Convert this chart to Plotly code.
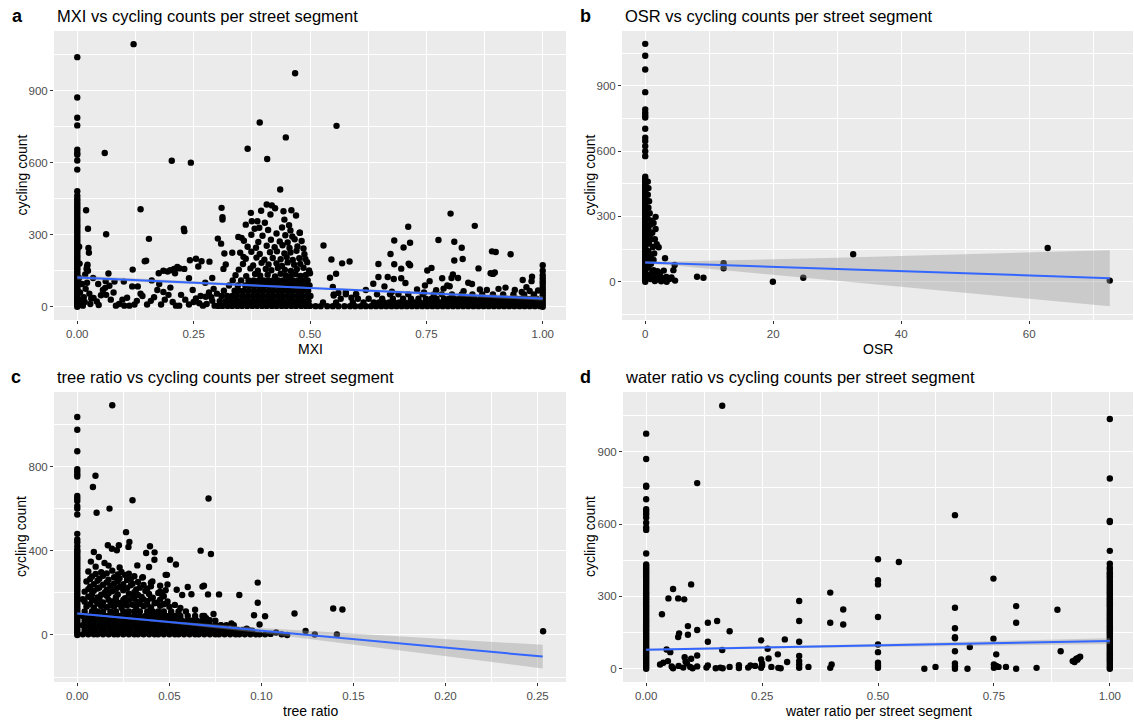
import plotly.graph_objects as go

# ---------------- Panel a : MXI ----------------
a_x0_y = [0,6,12,18,24,30,37,43,50,56,63,69,76,82,89,96,103,110,117,124,131,139,146,154,161,169,177,185,193,201,
          209,217,226,234,242,251,259,268,277,286,295,304,313,322,331,340,349,358,367,376,386,395,404,413,422,431,
          441,450,462,481,571,609,633,640,654,755,787,871,1039]
a_left = [(0.004,250),(0.004,120),(0.005,180),(0.006,60),(0.006,10),(0.008,30),(0.010,95),(0.012,5),(0.014,40),
          (0.016,20),(0.017,135),(0.018,75),(0.019,402),(0.020,158),(0.021,168),(0.021,100),(0.022,175),(0.023,325),
          (0.023,150),(0.024,245),(0.025,225),(0.026,55),(0.028,12),(0.030,35),(0.034,120),(0.035,37),(0.042,22),
          (0.045,95),(0.046,8),(0.051,48),(0.055,70),(0.059,640),(0.060,79),(0.061,107),(0.062,302),(0.062,50),
          (0.067,139),(0.069,88),(0.072,30),(0.078,60),(0.080,105),(0.083,5),(0.090,12),(0.097,30),(0.100,105),
          (0.101,5),(0.107,38),(0.112,5),(0.118,85),(0.119,155),(0.121,1093),(0.123,10),(0.128,25),(0.130,85),
          (0.136,406),(0.136,55),(0.140,45),(0.145,190),(0.148,192),(0.150,10),(0.154,283),(0.158,25),(0.160,110),
          (0.165,40),(0.172,70),(0.175,140),(0.176,95),(0.180,10),(0.185,150),(0.185,62),(0.188,30),(0.194,147),
          (0.196,50),(0.200,152),(0.200,80),(0.203,608),(0.205,20),(0.208,158),(0.210,140),(0.212,5),(0.215,166),
          (0.219,5),(0.220,160),(0.223,50),(0.229,325),(0.230,315),(0.230,158),(0.232,30),(0.240,119),(0.240,10),
          (0.242,194),(0.244,600),(0.248,70),(0.250,20),(0.255,200),(0.255,35),(0.260,168),(0.262,15),(0.265,45),
          (0.267,190),(0.270,5),(0.275,100),(0.276,42),(0.278,12),(0.283,60),(0.284,188),(0.288,40),(0.290,120),
          (0.290,25),(0.293,75),(0.295,5),(0.300,55)]
a_mid_rows = [(4,  [0.303,0.312,0.323,0.333,0.344,0.354,0.365,0.376,0.386,0.397,0.407,0.418,0.428,0.439,0.449,0.460,0.470,0.481,0.491,0.500]),
              (24, [0.306,0.318,0.328,0.339,0.349,0.360,0.370,0.381,0.392,0.402,0.413,0.423,0.434,0.444,0.455,0.465,0.476,0.486,0.497]),
              (45, [0.310,0.322,0.333,0.343,0.355,0.366,0.377,0.387,0.398,0.409,0.419,0.430,0.440,0.451,0.461,0.472,0.482,0.493,0.501]),
              (67, [0.315,0.338,0.348,0.358,0.369,0.380,0.391,0.401,0.412,0.422,0.433,0.443,0.454,0.464,0.475,0.485,0.496]),
              (89, [0.326,0.345,0.361,0.372,0.383,0.394,0.404,0.415,0.426,0.436,0.447,0.457,0.468,0.478,0.489,0.499]),
              (110,[0.334,0.352,0.368,0.379,0.390,0.400,0.411,0.421,0.432,0.442,0.453,0.463,0.474,0.484,0.495])]
a_mid_upper = [(0.340,132),(0.363,128),(0.382,137),(0.393,130),(0.409,134),(0.425,127),(0.437,138),(0.448,131),
               (0.458,126),(0.469,136),(0.480,129),(0.491,133),(0.500,140),(0.347,155),(0.372,160),(0.388,150),
               (0.405,158),(0.417,152),(0.431,162),(0.446,154),(0.459,149),(0.472,157),(0.486,163),(0.498,151),
               (0.356,178),(0.378,172),(0.396,183),(0.411,176),(0.428,181),(0.440,170),(0.452,185),(0.466,175),
               (0.479,179),(0.494,186),(0.362,200),(0.385,205),(0.402,196),(0.420,203),(0.437,198),(0.450,207),
               (0.463,195),(0.477,202),(0.490,199),(0.350,225),(0.374,229),(0.392,220),(0.414,227),(0.429,231),
               (0.445,222),(0.458,226),(0.471,233),(0.488,219),(0.366,250),(0.384,246),(0.407,254),(0.424,248),
               (0.441,256),(0.456,245),(0.473,251),(0.486,243),(0.358,275),(0.389,270),(0.416,279),(0.435,272),
               (0.452,268),(0.467,281),(0.482,274),(0.374,300),(0.398,296),(0.428,305),(0.447,298),(0.462,293),
               (0.478,308),(0.381,325),(0.410,320),(0.440,330),(0.458,318),(0.302,284),(0.309,263),(0.316,222),
               (0.319,176),(0.314,158),(0.333,225),(0.357,208),(0.310,412),(0.312,373),(0.312,363),(0.346,291),
               (0.353,287),(0.362,342),(0.366,658),(0.373,391),(0.375,356),(0.387,356),(0.391,329),(0.392,767),
               (0.403,350),(0.407,426),(0.408,615),(0.415,384),(0.418,422),(0.436,488),(0.443,398),(0.445,363),
               (0.448,705),(0.460,402),(0.468,972),(0.478,308),(0.470,380),(0.455,340),(0.425,410),(0.395,400),
               (0.557,753)]
a_right_rows = [(3,  [0.512,0.523,0.537,0.549,0.561,0.574,0.586,0.597,0.609,0.620,0.631,0.642,0.653,0.664,0.675,0.686,
                      0.697,0.708,0.719,0.730,0.741,0.752,0.763,0.774,0.785,0.796,0.807,0.818,0.829,0.840,0.851,0.862,
                      0.873,0.884,0.895,0.906,0.917,0.928,0.939,0.950,0.961,0.972,0.983,0.994]),
                (18, [0.528,0.556,0.592,0.615,0.637,0.648,0.659,0.670,0.681,0.692,0.703,0.714,0.725,0.736,0.747,0.758,
                      0.769,0.780,0.791,0.802,0.813,0.824,0.835,0.846,0.857,0.868,0.879,0.890,0.901,0.912,0.923,0.934,
                      0.945,0.956,0.967,0.978,0.989]),
                (34, [0.566,0.603,0.626,0.655,0.678,0.700,0.717,0.733,0.749,0.761,0.772,0.788,0.799,0.810,0.821,0.832,
                      0.843,0.854,0.866,0.877,0.888,0.899,0.910,0.921,0.932,0.943,0.954,0.965,0.976,0.987]),
                (52, [0.551,0.577,0.599,0.644,0.672,0.690,0.711,0.742,0.766,0.783,0.805,0.826,0.849,0.870,0.893,0.915,
                      0.937,0.960,0.981])]
a_right_pts = [(0.529,255),(0.546,197),(0.543,121),(0.549,83),(0.556,138),(0.569,181),(0.585,189),(0.551,47),
               (0.589,38),(0.561,58),(0.577,61),(0.599,54),(0.647,178),(0.647,124),(0.636,96),(0.667,124),(0.673,220),
               (0.681,276),(0.681,177),(0.680,116),(0.701,247),(0.696,159),(0.696,119),(0.705,99),(0.711,333),
               (0.715,267),(0.712,180),(0.715,173),(0.676,63),(0.752,151),(0.761,162),(0.757,107),(0.747,89),
               (0.776,278),(0.784,119),(0.771,69),(0.787,76),(0.795,89),(0.800,86),(0.802,388),(0.810,271),(0.810,193),
               (0.826,246),(0.828,199),(0.804,120),(0.807,135),(0.818,120),(0.840,100),(0.848,95),(0.854,337),
               (0.862,160),(0.891,231),(0.899,228),(0.888,140),(0.893,137),(0.897,143),(0.931,219),(0.957,112),
               (0.965,82),(0.976,107),(0.977,125),(0.880,70),(0.905,75),(0.920,80),(0.940,70),(0.955,62),(0.972,66),
               (0.990,68),(0.620,70),(0.660,85),(0.730,72),(0.745,60),(0.865,72),(0.830,65)]
a_x1_y = [0,12,24,36,48,60,72,84,96,106,118,132,150,173]
a_fit_x = [0, 0.25, 0.5, 0.75, 1.0]
a_fit_y = [122, 100, 78.5, 57, 35]
a_fit_lo = [114, 95, 74.5, 51, 26]
a_fit_hi = [130, 105, 82.5, 63, 44]

# ---------------- Panel b : OSR ----------------
b_x0_y = [0,8,16,24,32,40,48,56,64,72,80,88,96,104,112,120,128,136,144,152,160,168,176,184,192,200,208,216,224,232,
          240,248,256,264,272,280,288,296,304,312,320,328,336,344,352,360,368,376,384,392,400,408,416,424,432,440,
          448,456,464,472,483,577,600,623,646,662,703,754,765,777,792,871,975,1038,1093]
b_pts = [(0.4,460),(0.5,430),(0.4,400),(0.6,370),(0.5,340),(0.7,315),(0.4,290),(1.0,280),(0.8,262),(1.3,270),(0.5,240),
         (1.1,225),(0.7,215),(1.5,195),(0.9,195),(1.8,172),(2.1,158),(0.6,175),(1.2,160),(0.5,140),(1.4,130),(0.9,118),
         (1.3,100),(0.6,100),(0.9,82),(0.5,65),(1.1,45),(0.6,30),(0.8,12),(1.62,298),(1.62,242),(3.1,108),(4.6,77),
         (1.3,53),(4.4,53),(2.9,51),(2.3,40),(1.7,28),(2.0,10),(2.6,18),(3.3,22),(3.8,12),(4.66,5),(3.35,0),(2.5,2),
         (1.5,3),(4.1,20),(1.2,16),(1.9,48),(8.1,23),(9.1,18),(12.25,85),(12.25,62),(19.95,0),(24.7,18),(32.5,126),
         (62.9,155),(72.6,5)]
b_fit_x = [0, 5, 10, 20, 30, 40, 50, 60, 72.6]
b_fit_y = [88, 83, 78, 68, 58, 48, 38, 28, 16]
b_fit_lo = [82, 73, 60, 34, 6, -22, -50, -78, -113]
b_fit_hi = [94, 93, 96, 102, 110, 118, 126, 134, 145]

# ---------------- Panel c : tree ratio ----------------
c_x0_y = [0,10,20,30,40,50,60,70,80,90,100,110,120,130,140,150,160,170,180,190,200,210,220,230,240,250,260,270,280,
          290,300,310,320,330,340,350,360,370,380,390,398,406,422,441,454,481,573,601,613,637,649,661,754,765,778,
          789,874,976,1037]
c_rows = [(3,  [0.003,0.006,0.009,0.011,0.014,0.017,0.020,0.022,0.025,0.028,0.031,0.033,0.036,0.039,0.042,0.044,0.047,
                0.050,0.053,0.055,0.058,0.061,0.064,0.066,0.069,0.072,0.075,0.077,0.080,0.083,0.086,0.088,0.091,0.094,
                0.097,0.099,0.102]),
          (24, [0.004,0.007,0.010,0.013,0.015,0.018,0.021,0.024,0.026,0.029,0.032,0.035,0.037,0.040,0.043,0.046,0.048,
                0.051,0.054,0.057,0.059,0.062,0.065,0.068,0.070,0.073,0.076,0.079,0.081,0.084,0.087,0.090,0.093]),
          (46, [0.003,0.006,0.009,0.012,0.014,0.017,0.020,0.023,0.025,0.028,0.031,0.034,0.036,0.039,0.042,0.045,0.047,
                0.050,0.053,0.056,0.058,0.061,0.064,0.067,0.069,0.072,0.075,0.078,0.081,0.085]),
          (68, [0.004,0.007,0.010,0.013,0.016,0.018,0.021,0.024,0.027,0.029,0.032,0.035,0.038,0.040,0.043,0.046,0.049,
                0.051,0.054,0.057,0.060,0.062,0.065,0.068,0.071,0.075]),
          (90, [0.003,0.006,0.009,0.012,0.015,0.017,0.020,0.023,0.026,0.028,0.031,0.034,0.037,0.039,0.042,0.045,0.048,
                0.050,0.053,0.056,0.060,0.064,0.069]),
          (112,[0.004,0.008,0.011,0.014,0.018,0.021,0.025,0.028,0.031,0.034,0.038,0.041,0.044,0.047,0.051,0.055,0.059])]
c_upper = [(0.005,135),(0.009,130),(0.013,138),(0.016,132),(0.020,136),(0.024,129),(0.027,140),(0.032,133),(0.036,137),
           (0.040,131),(0.045,139),(0.050,134),(0.056,128),(0.004,158),(0.010,163),(0.014,155),(0.019,160),(0.023,152),
           (0.028,165),(0.033,157),(0.038,161),(0.043,154),(0.049,159),(0.006,182),(0.011,178),(0.016,186),(0.021,180),
           (0.026,175),(0.030,188),(0.035,181),(0.041,177),(0.047,184),(0.004,206),(0.009,210),(0.015,202),(0.019,208),
           (0.025,213),(0.031,204),(0.037,209),(0.044,200),(0.007,230),(0.012,226),(0.018,234),(0.023,228),(0.029,236),
           (0.034,225),(0.040,232),(0.005,254),(0.011,258),(0.016,250),(0.022,256),(0.027,262),(0.033,252),
           (0.008,278),(0.014,282),(0.020,275),(0.026,285),(0.031,279),(0.006,302),(0.013,298),(0.019,306),
           (0.024,300),(0.010,325),(0.017,330),(0.023,321)]
c_upper2 = [(0.007,146),(0.011,149),(0.018,143),(0.022,147),(0.026,150),(0.030,144),(0.034,148),(0.038,145),
            (0.042,151),(0.047,146),(0.053,143),(0.003,170),(0.008,168),(0.012,173),(0.017,167),(0.021,171),
            (0.025,166),(0.031,172),(0.036,169),(0.040,174),(0.045,168),(0.008,194),(0.013,191),(0.017,197),
            (0.022,193),(0.028,196),(0.033,190),(0.039,195),(0.046,192),(0.006,218),(0.011,221),(0.016,215),
            (0.021,219),(0.027,222),(0.032,216),(0.038,220),(0.009,242),(0.014,239),(0.020,245),(0.025,241),
            (0.030,244),(0.036,238),(0.007,266),(0.012,268),(0.017,263),(0.023,270),(0.029,265),(0.010,290),
            (0.016,293),(0.022,288),(0.028,291)]
c_pts = [(0.0099,757),(0.0085,704),(0.0105,581),(0.0175,601),(0.019,1093),(0.030,641),(0.0713,649),(0.067,401),
         (0.0726,385),(0.0265,489),(0.0283,442),(0.0278,419),(0.0395,422),(0.042,393),(0.0419,358),(0.0374,390),
         (0.039,323),(0.0504,358),(0.0536,335),(0.048,286),(0.0356,275),(0.040,249),(0.068,230),(0.0688,234),
         (0.071,193),(0.077,193),(0.088,190),(0.098,249),(0.098,153),(0.096,94),(0.102,89),(0.099,50),(0.118,102),
         (0.124,19),(0.114,0),(0.129,2),(0.139,126),(0.144,121),(0.141,2),(0.253,18),(0.0166,427),(0.0188,410),
         (0.0215,403),(0.0226,427),(0.009,395),(0.0117,371),(0.0148,342),(0.0074,349),(0.045,234),(0.045,206),
         (0.0487,286),(0.049,240),(0.048,213),(0.054,215),(0.057,190),(0.060,228),(0.062,194),(0.0326,331),
         (0.0353,273),(0.0408,254),(0.068,90),(0.070,80),(0.072,70),(0.0837,55),(0.092,30),(0.095,20),(0.105,5),
         (0.108,12),(0.111,3),(0.074,100),(0.064,120),(0.078,45)]
c_fit_x = [0, 0.05, 0.10, 0.15, 0.20, 0.2528]
c_fit_y = [102, 61.5, 21, -19.5, -60, -103]
c_fit_lo = [97, 56, 9, -45, -101, -159]
c_fit_hi = [107, 67, 33, 6, -19, -47]

# ---------------- Panel d : water ratio ----------------
d_x0_y = [0,8,16,24,32,40,48,56,64,72,80,88,96,104,112,120,128,136,144,152,160,168,176,184,192,200,208,216,224,232,
          240,248,256,264,272,280,288,296,304,312,320,328,336,344,352,360,368,376,384,392,400,408,416,424,433,478,
          576,586,606,627,641,651,662,703,755,759,870,975]
d_x1_y = [0,8,16,24,32,40,48,56,64,72,80,88,96,104,112,120,128,136,144,152,160,168,176,184,192,200,208,216,224,232,
          240,248,256,264,272,280,288,296,304,312,320,328,336,344,352,360,368,376,384,392,400,412,420,436,489,609,
          613,789,1036]
d_pts = [(0.164,1091),(0.110,770),(0.034,226),(0.048,292),(0.058,331),(0.069,292),(0.082,288),(0.097,350),(0.090,177),
         (0.090,141),(0.071,147),(0.069,132),(0.110,161),(0.133,191),(0.153,198),(0.133,112),(0.180,156),(0.164,78),
         (0.044,80),(0.052,69),(0.110,55),(0.097,42),(0.085,30),(0.083,48),(0.088,22),(0.047,32),(0.037,25),(0.030,18),
         (0.055,10),(0.058,2),(0.070,12),(0.080,5),(0.095,8),(0.100,2),(0.110,10),(0.130,5),(0.133,14),(0.150,2),
         (0.160,5),(0.165,2),(0.180,8),(0.200,3),(0.200,15),(0.220,5),(0.225,14),(0.235,12),(0.248,4),(0.250,14),
         (0.250,22),(0.270,8),(0.285,4),(0.290,2),(0.248,118),(0.248,39),(0.264,43),(0.262,83),(0.284,60),(0.299,122),
         (0.304,28),(0.330,281),(0.330,198),(0.330,112),(0.330,53),(0.330,32),(0.330,18),(0.330,4),(0.350,8),
         (0.397,316),(0.397,191),(0.400,18),(0.397,4),(0.425,246),(0.425,184),(0.500,454),(0.545,443),(0.500,367),
         (0.500,350),(0.500,215),(0.500,101),(0.500,69),(0.500,25),(0.500,14),(0.500,4),(0.600,0),(0.624,8),
         (0.666,637),(0.666,253),(0.666,168),(0.666,131),(0.666,127),(0.666,73),(0.666,22),(0.666,11),(0.666,0),
         (0.693,0),(0.698,90),(0.749,374),(0.749,125),(0.755,60),(0.750,18),(0.750,4),(0.755,12),(0.760,8),(0.776,8),
         (0.798,260),(0.798,191),(0.798,0),(0.842,4),(0.887,245),(0.894,73),(0.920,32),(0.925,36),(0.928,42),
         (0.932,45),(0.936,50),(0.924,28),(0.930,38)]
d_fit_x = [0, 0.25, 0.5, 0.75, 1.0]
d_fit_y = [79, 88, 97, 106, 115]
d_fit_lo = [75, 84, 91, 97, 103]
d_fit_hi = [83, 92, 103, 115, 127]

titles = ["MXI vs cycling counts per street segment", "OSR vs cycling counts per street segment",
          "tree ratio vs cycling counts per street segment", "water ratio vs cycling counts per street segment"]
tags = ["a", "b", "c", "d"]
xtitles = ["MXI", "OSR", "tree ratio", "water ratio per street segment"]
ytitle = "cycling count"

FONT = "Liberation Sans, Arial, sans-serif"
W, H = 1134, 724


def pairs(p):
    return [q[0] for q in p], [q[1] for q in p]


def rows(r):
    xs, ys = [], []
    for yv, xl in r:
        xs += xl
        ys += [yv] * len(xl)
    return xs, ys


def panel_points(groups):
    xs, ys = [], []
    for gx, gy in groups:
        xs += list(gx)
        ys += list(gy)
    return xs, ys


pa = panel_points([([0] * len(a_x0_y), a_x0_y), pairs(a_left), rows(a_mid_rows), pairs(a_mid_upper),
                   rows(a_right_rows), pairs(a_right_pts), ([1.0] * len(a_x1_y), a_x1_y)])
pb = panel_points([([0] * len(b_x0_y), b_x0_y), pairs(b_pts)])
pc = panel_points([([0] * len(c_x0_y), c_x0_y), rows(c_rows), pairs(c_upper), pairs(c_upper2), pairs(c_pts)])
pd_ = panel_points([([0] * len(d_x0_y), d_x0_y), ([1.0] * len(d_x1_y), d_x1_y), pairs(d_pts)])

fits = [(a_fit_x, a_fit_y, a_fit_lo, a_fit_hi), (b_fit_x, b_fit_y, b_fit_lo, b_fit_hi),
        (c_fit_x, c_fit_y, c_fit_lo, c_fit_hi), (d_fit_x, d_fit_y, d_fit_lo, d_fit_hi)]

fig = go.Figure()
for i, (pts, fit) in enumerate(zip([pa, pb, pc, pd_], fits)):
    xa = "x" if i == 0 else f"x{i+1}"
    ya = "y" if i == 0 else f"y{i+1}"
    fig.add_trace(go.Scatter(x=pts[0], y=pts[1], mode="markers", xaxis=xa, yaxis=ya,
                             marker=dict(color="black", size=6.4, line=dict(width=0)),
                             showlegend=False, hoverinfo="skip"))
    fx, fy, flo, fhi = fit
    fig.add_trace(go.Scatter(x=fx + fx[::-1], y=fhi + flo[::-1], mode="lines", fill="toself",
                             fillcolor="rgba(153,153,153,0.4)", line=dict(width=0), xaxis=xa, yaxis=ya,
                             showlegend=False, hoverinfo="skip"))
    fig.add_trace(go.Scatter(x=fx, y=fy, mode="lines", line=dict(color="#3366FF", width=2),
                             xaxis=xa, yaxis=ya, showlegend=False, hoverinfo="skip"))

# panel pixel boxes (left, right, top, bottom)
boxes = [(54, 566, 31, 320), (622, 1133, 31, 320), (54, 566, 392, 682), (623, 1133, 392, 682)]
xranges = [[-0.05, 1.05], [-3.63, 76.23], [-0.01264, 0.26544], [-0.05, 1.05]]
yranges = [[-54.7, 1147.7], [-176, 1152], [-223.7, 1155.7], [-54.7, 1147.7]]
xdt = [(0.25, 0.125, ".2f"), (20, 10, "d"), (0.05, 0.025, ".2f"), (0.25, 0.125, ".2f")]
ydt = [(300, 150), (300, 150), (400, 200), (300, 150)]

axis_common = dict(showgrid=True, gridcolor="white", gridwidth=1.1, zeroline=False, showline=False,
                   ticks="outside", ticklen=3, tickwidth=1, tickcolor="#333333",
                   tickfont=dict(family=FONT, size=11.5, color="#4D4D4D"), fixedrange=True)

lay = {}
for i in range(4):
    l, r, t, b = boxes[i]
    sx = "" if i == 0 else str(i + 1)
    lay["xaxis" + sx] = dict(axis_common, domain=[l / W, r / W], range=xranges[i], anchor="y" + sx,
                             tickmode="linear", tick0=0, dtick=xdt[i][0], tickformat=xdt[i][2],
                             minor=dict(tickmode="linear", tick0=0, dtick=xdt[i][1], showgrid=True,
                                        gridcolor="white", gridwidth=0.55, ticks=""))
    lay["yaxis" + sx] = dict(axis_common, domain=[1 - b / H, 1 - t / H], range=yranges[i], anchor="x" + sx,
                             tickmode="linear", tick0=0, dtick=ydt[i][0],
                             minor=dict(tickmode="linear", tick0=0, dtick=ydt[i][1], showgrid=True,
                                        gridcolor="white", gridwidth=0.55, ticks=""))

ann = []
tag_pos = [(10, 16), (578, 16), (9, 377), (578, 377)]
title_pos = [(55, 16), (623, 16), (55, 377), (623, 377)]
for i in range(4):
    l, r, t, b = boxes[i]
    ann.append(dict(text="<b>%s</b>" % tags[i], x=tag_pos[i][0] / W, y=1 - tag_pos[i][1] / H, xref="paper",
                    yref="paper", xanchor="left", yanchor="middle", showarrow=False,
                    font=dict(family=FONT, size=18, color="black")))
    ann.append(dict(text=titles[i], x=title_pos[i][0] / W, y=1 - title_pos[i][1] / H, xref="paper",
                    yref="paper", xanchor="left", yanchor="middle", showarrow=False,
                    font=dict(family=FONT, size=16.5, color="black")))
    ann.append(dict(text=xtitles[i], x=(l + r) / 2 / W, y=1 - (b + 29) / H, xref="paper", yref="paper",
                    xanchor="center", yanchor="middle", showarrow=False,
                    font=dict(family=FONT, size=14, color="black")))
    ann.append(dict(text=ytitle, x=(l - 33) / W, y=1 - (t + b) / 2 / H, xref="paper", yref="paper",
                    xanchor="center", yanchor="middle", textangle=-90, showarrow=False,
                    font=dict(family=FONT, size=14, color="black")))

fig.update_layout(width=W, height=H, margin=dict(l=0, r=0, t=0, b=0), paper_bgcolor="white",
                  plot_bgcolor="#EBEBEB", annotations=ann, hovermode=False, showlegend=False, **lay)

fig.write_html("out.html", config={"displayModeBar": False})
